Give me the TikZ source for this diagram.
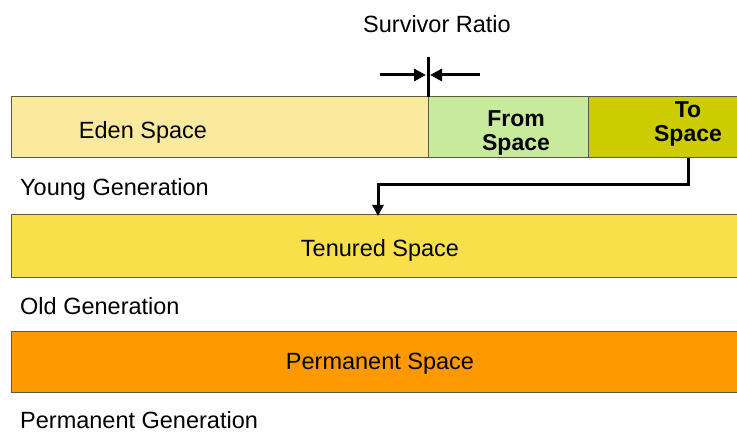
\documentclass[tikz,border=0pt]{standalone}
\usepackage{fontspec}
\setmainfont{Liberation Sans}
\usetikzlibrary{arrows.meta}
\definecolor{edenc}{HTML}{FBE99D}
\definecolor{fromc}{HTML}{C8EA9C}
\definecolor{toc}{HTML}{CCCC00}
\definecolor{tenc}{HTML}{F9E04B}
\definecolor{permc}{HTML}{FF9900}
\definecolor{edgec}{HTML}{5A5A40}
\begin{document}
\begin{tikzpicture}[x=1pt,y=-1pt,
  area/.style={draw=edgec,line width=1pt,inner sep=0pt},
  txt/.style={font=\fontsize{23.5}{26}\selectfont,inner sep=0pt},
  lbl/.style={txt,anchor=west},
  boldlbl/.style={font=\fontsize{23}{23.5}\selectfont\bfseries,align=center,inner sep=0pt},
  arr/.style={line width=3pt,-{Triangle[length=12pt,width=12pt]}}]
\useasboundingbox (0,0) rectangle (737,433);
% young generation
\path[area,fill=edenc] (11,97) rectangle (428,158);
\path[area,fill=fromc] (428,97) rectangle (588,158);
\path[area,fill=toc] (588,97) rectangle (737,158);
\node[txt] (eden) at (143,132) {Eden Space};
\node[boldlbl] (from) at (516,133) {From\\Space};
\node[boldlbl] (to) at (688,124) {To\\Space};
\coordinate (tobot) at (688,158);
% tenured and permanent
\path[area,fill=tenc] (11,215) rectangle (737,277);
\node[txt] (tenured) at (380,250.5) {Tenured Space};
\coordinate (tentop) at (378,215);
\path[area,fill=permc] (11,331) rectangle (737,392);
\node[txt] (perm) at (380,364) {Permanent Space};
% generation captions
\node[lbl] (young) at (20,189.5) {Young Generation};
\node[lbl] (old) at (20,306.5) {Old Generation};
\node[lbl] (permgen) at (20,420) {Permanent Generation};
% survivor ratio marker
\node[txt] (ratio) at (437,24.5) {Survivor Ratio};
\coordinate (divtop) at (428,57);
\coordinate (divbot) at (428,97);
\draw[line width=3pt] (divtop) -- (divbot);
\coordinate (la) at (380,75);
\coordinate (lb) at (426,75);
\coordinate (ra) at (480,75);
\coordinate (rb) at (430,75);
\draw[arr] (la) -- (lb);
\draw[arr] (ra) -- (rb);
% promotion path
\draw[line width=3pt,-{Triangle[length=11pt,width=11pt]}] (tobot) -- (688,185) -- (378,185) -- ([yshift=-1pt]tentop);
\end{tikzpicture}
\end{document}
